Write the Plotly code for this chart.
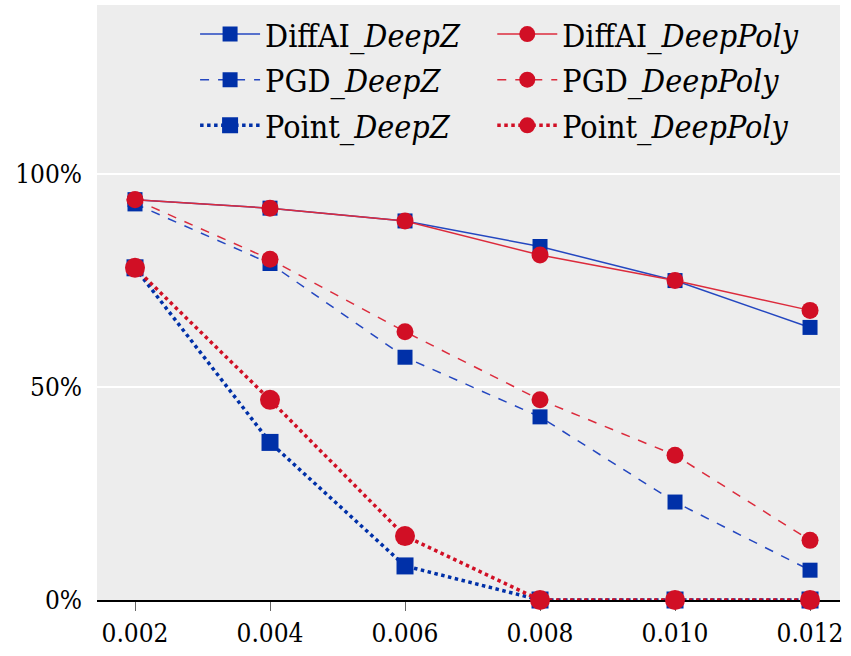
import plotly.graph_objects as go

eps = [0.002, 0.004, 0.006, 0.008, 0.010, 0.012]
tick_text = ["0.002", "0.004", "0.006", "0.008", "0.010", "0.012"]

diffai_deepz = [94, 92, 89, 83, 75, 64]
diffai_deeppoly = [94, 92, 89, 81, 75, 68]
pgd_deepz = [93, 79, 57, 43, 23, 7]
pgd_deeppoly = [94, 80, 63, 47, 34, 14]
point_deepz = [78, 37, 8, 0, 0, 0]
point_deeppoly = [78, 47, 15, 0, 0, 0]

y_ticks = [0, 50, 100]
y_tick_text = ["0%", "50%", "100%"]

BLUE = "#0030a8"
BLUE_LINE = "#2447c0"
RED = "#d10f25"
RED_LINE = "#dc2b3c"

series = [
    ("DiffAI_<i>DeepZ</i>", diffai_deepz, BLUE, BLUE_LINE, "square", "solid", 1.5, 15, "legend"),
    ("DiffAI_<i>DeepPoly</i>", diffai_deeppoly, RED, RED_LINE, "circle", "solid", 1.5, 17, "legend2"),
    ("PGD_<i>DeepZ</i>", pgd_deepz, BLUE, BLUE_LINE, "square", "dash", 1.5, 15, "legend"),
    ("PGD_<i>DeepPoly</i>", pgd_deeppoly, RED, RED_LINE, "circle", "dash", 1.5, 17, "legend2"),
    ("Point_<i>DeepZ</i>", point_deepz, BLUE, BLUE, "square", "dot", 3.5, 17, "legend"),
    ("Point_<i>DeepPoly</i>", point_deeppoly, RED, RED, "circle", "dot", 3.5, 20, "legend2"),
]

FONT = "DejaVu Serif Condensed, DejaVu Serif"

fig = go.Figure()
for i, (name, vals, mc, lc, sym, dash, lw, ms, leg) in enumerate(series):
    fig.add_trace(go.Scatter(
        x=eps, y=vals, name=name, mode="lines+markers",
        line=dict(color=lc, width=lw, dash=dash),
        marker=dict(color=mc, symbol=sym, size=ms, line=dict(width=0)),
        cliponaxis=False, legend=leg, legendgroup="g%d" % i,
    ))

leg_common = dict(
    orientation="v", yanchor="top", y=0.997, xanchor="left",
    bgcolor="rgba(0,0,0,0)", font=dict(family=FONT, size=32),
    tracegroupgap=1, itemwidth=60,
)
fig.update_layout(
    width=851, height=656,
    margin=dict(l=97, r=11, t=5, b=56),
    paper_bgcolor="white",
    plot_bgcolor="#ededed",
    font=dict(family=FONT, size=26, color="black"),
    showlegend=True,
    legend=dict(x=0.132, **leg_common),
    legend2=dict(x=0.532, **leg_common),
)
fig.update_xaxes(
    range=[0.001437, 0.012444],
    tickvals=eps, ticktext=tick_text,
    showgrid=False, zeroline=False,
    showline=True, linecolor="black", linewidth=1.5,
    ticks="outside", ticklen=9, tickcolor="#666666", tickwidth=1,
    ticklabelstandoff=0,
    layer="below traces",
)
fig.update_yaxes(
    range=[0, 139.7],
    tickvals=y_ticks, ticktext=y_tick_text,
    showgrid=True, gridcolor="white", gridwidth=1.5,
    zeroline=False, showline=False, ticks="",
    ticklabelstandoff=14,
    layer="below traces",
)

fig.write_html("out.html")
